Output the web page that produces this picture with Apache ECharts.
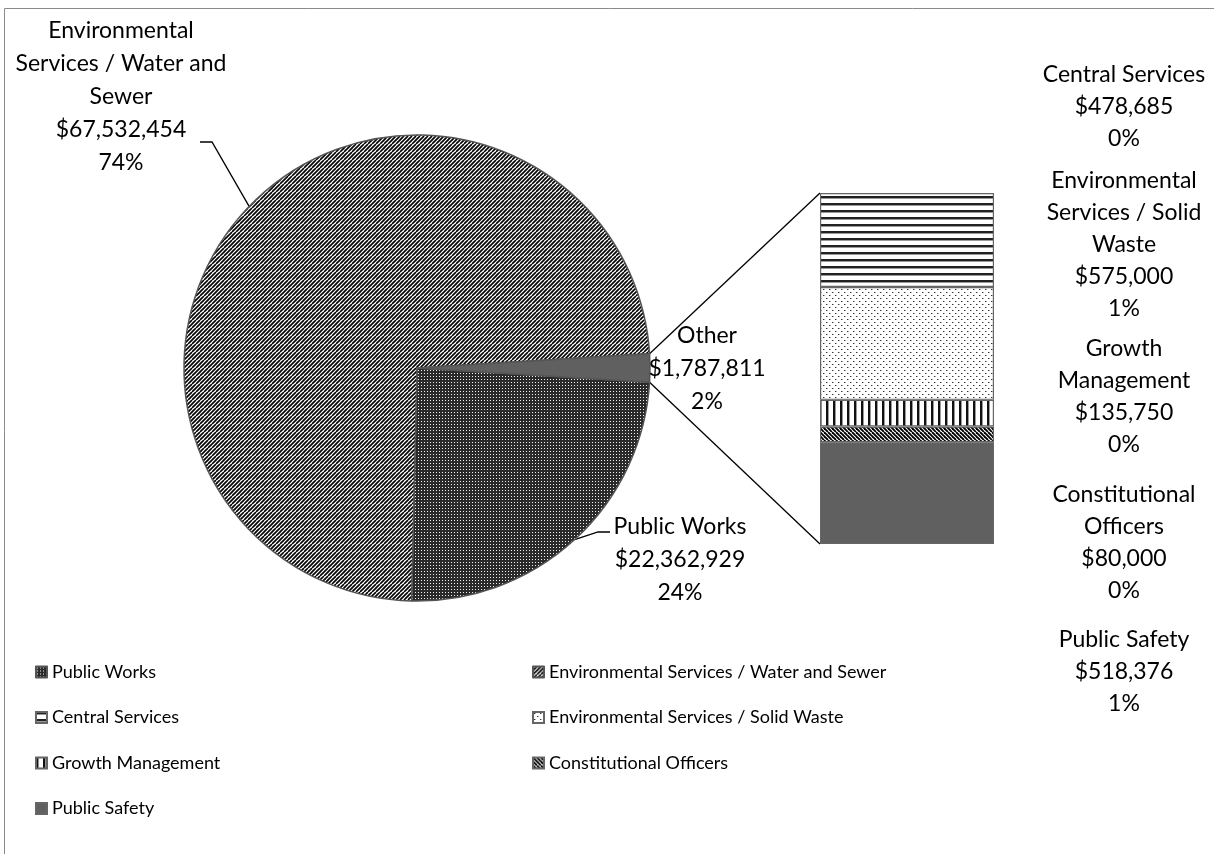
<!DOCTYPE html>
<html>
<head>
<meta charset="utf-8">
<script src="https://cdn.jsdelivr.net/npm/echarts@6/dist/echarts.min.js"></script>
<style>
html, body { margin: 0; padding: 0; background: #fff; }
#main { width: 1214px; height: 854px; }
</style>
</head>
<body>
<div id="main"></div>
<script>
// pie slices, "Other" is the sum of the bar below
var pieNames = ['Public Works', 'Environmental Services / Water and Sewer', 'Other'];
var pieValues = [22362929, 67532454, 1787811];
var piePct = ['24%', '74%', '2%'];
var pieLabelNames = ['Public Works', 'Environmental\nServices / Water and\nSewer', 'Other'];

// bar of "Other", bottom to top
var barNames = ['Public Safety', 'Constitutional Officers', 'Growth Management', 'Environmental Services / Solid Waste', 'Central Services'];
var barValues = [518376, 80000, 135750, 575000, 478685];
var barPct = ['1%', '0%', '0%', '1%', '0%'];
var barLabelNames = ['Public Safety', 'Constitutional\nOfficers', 'Growth\nManagement', 'Environmental\nServices / Solid\nWaste', 'Central Services'];

// legend columns
var legendLeft = ['Public Works', 'Central Services', 'Growth Management', 'Public Safety'];
var legendRight = ['Environmental Services / Water and Sewer', 'Environmental Services / Solid Waste', 'Constitutional Officers'];

var FONT = 'Lato';

// layout
var pieCenter = [417, 368];
var pieRadius = 233;
var barBox = { left: 820, top: 193, width: 174, height: 351 };
var pieLabelPos = [[680, 560], [121, 97], [707, 369]];
var pieLabelEnd = [[[598, 532], [610, 532]], [[212, 142], [200, 142]], null];
var barLabelX = 1124;
var barLabelY = [672, 543, 397, 245, 107];

function fmt(v) { return '$' + v.toLocaleString('en-US'); }

// hatch patterns
function tile(w, h, bg, draw) {
  var c = document.createElement('canvas');
  c.width = w; c.height = h;
  var ctx = c.getContext('2d');
  ctx.fillStyle = bg;
  ctx.fillRect(0, 0, w, h);
  draw(ctx, w, h);
  return { image: c, repeat: 'repeat' };
}
function diag(ctx, size, step, lw, color, up) {
  ctx.strokeStyle = color;
  ctx.lineWidth = lw;
  for (var x0 = -size; x0 <= size * 2; x0 += step) {
    ctx.beginPath();
    if (up) { ctx.moveTo(x0, size); ctx.lineTo(x0 + size, 0); }
    else { ctx.moveTo(x0, 0); ctx.lineTo(x0 + size, size); }
    ctx.stroke();
  }
}

var patWater = tile(8, 8, '#fff', function (ctx) { diag(ctx, 8, 4, 1.6, '#000', true); });
var patWorks = tile(3, 3, '#2a2a2a', function (ctx) { ctx.fillStyle = '#f2f2f2'; ctx.fillRect(1, 1, 1, 1); });
var patCentral = tile(4, 7, '#fff', function (ctx) {
  ctx.fillStyle = '#222'; ctx.fillRect(0, 0, 4, 2);
  ctx.fillStyle = '#999'; ctx.fillRect(0, 2, 4, 1);
});
var patSolid = tile(6, 6, '#fff', function (ctx) {
  ctx.fillStyle = '#333';
  ctx.fillRect(1, 1, 1, 1);
  ctx.fillRect(4, 4, 1, 1);
  ctx.fillStyle = '#aaa';
  ctx.fillRect(2, 1, 1, 1);
  ctx.fillRect(5, 4, 1, 1);
});
var patGrowth = tile(7, 4, '#fff', function (ctx) {
  ctx.fillStyle = '#111'; ctx.fillRect(0, 0, 2, 4);
  ctx.fillStyle = '#999'; ctx.fillRect(2, 0, 1, 4);
});
var patConst = tile(8, 8, '#fff', function (ctx) { diag(ctx, 8, 4, 1.9, '#000', false); });
var solidGray = '#606060';

var pieColors = [patWorks, patWater, solidGray];
var barColors = [solidGray, patConst, patGrowth, patSolid, patCentral];

// angles for the "Other" wedge, centred on 3 o'clock
var pieTotal = pieValues.reduce(function (a, b) { return a + b; }, 0);
var barTotal = barValues.reduce(function (a, b) { return a + b; }, 0);
var halfOther = pieValues[2] / pieTotal * Math.PI;
function edge(a) { return [pieCenter[0] + pieRadius * Math.cos(a), pieCenter[1] - pieRadius * Math.sin(a)]; }
var pTop = edge(halfOther), pBot = edge(-halfOther);

var series = [{
  type: 'pie',
  center: pieCenter,
  radius: pieRadius,
  startAngle: -halfOther * 180 / Math.PI,
  clockwise: true,
  avoidLabelOverlap: false,
  animation: false,
  data: pieNames.map(function (n, i) {
    return {
      name: n,
      value: pieValues[i],
      itemStyle: { color: pieColors[i] },
      labelLine: { show: i !== 2 }
    };
  }),
  itemStyle: { borderColor: '#555', borderWidth: 1.5 },
  label: {
    show: true,
    position: 'outside',
    fontFamily: FONT,
    fontSize: 23,
    lineHeight: 33,
    color: '#000',
    align: 'center',
    formatter: function (p) {
      return pieLabelNames[p.dataIndex] + '\n' + fmt(p.value) + '\n' + piePct[p.dataIndex];
    }
  },
  labelLine: { show: true, lineStyle: { color: '#000', width: 1.3 } },
  labelLayout: function (p) {
    var i = p.dataIndex;
    var out = { x: pieLabelPos[i][0], y: pieLabelPos[i][1], align: 'center', verticalAlign: 'middle' };
    if (pieLabelEnd[i] && p.labelLinePoints) {
      out.labelLinePoints = [p.labelLinePoints[0]].concat(pieLabelEnd[i]);
    }
    return out;
  }
}];

barNames.forEach(function (n, i) {
  series.push({
    name: n,
    type: 'bar',
    stack: 'other',
    barWidth: '100%',
    animation: false,
    data: [barValues[i]],
    itemStyle: { color: barColors[i], borderColor: '#666', borderWidth: 1.2 },
    label: {
      show: true,
      position: 'right',
      fontFamily: FONT,
      fontSize: 23,
      lineHeight: 32,
      color: '#000',
      align: 'center',
      formatter: function () {
        return barLabelNames[i] + '\n' + fmt(barValues[i]) + '\n' + barPct[i];
      }
    },
    labelLayout: { x: barLabelX, y: barLabelY[i], align: 'center', verticalAlign: 'middle' }
  });
});

var legendBase = {
  orient: 'vertical',
  top: 657,
  itemGap: 25.5,
  itemWidth: 11,
  itemHeight: 11,
  icon: 'rect',
  textStyle: { fontFamily: FONT, fontSize: 18, lineHeight: 20, color: '#000' }
};

var option = {
  backgroundColor: '#fff',
  animation: false,
  grid: { left: barBox.left, top: barBox.top, width: barBox.width, height: barBox.height, containLabel: false },
  xAxis: { type: 'category', data: ['Other'], show: false },
  yAxis: { type: 'value', min: 0, max: barTotal, show: false },
  legend: [
    Object.assign({}, legendBase, { left: 30, data: legendLeft }),
    Object.assign({}, legendBase, { left: 527, data: legendRight })
  ],
  graphic: [
    { type: 'rect', shape: { x: 4.5, y: 8.5, width: 1230, height: 870 }, style: { fill: 'none', stroke: '#8a8a8a', lineWidth: 1 }, silent: true, z: -1 },
    { type: 'line', shape: { x1: pTop[0], y1: pTop[1], x2: barBox.left, y2: barBox.top }, style: { stroke: '#000', lineWidth: 1.3 }, silent: true },
    { type: 'line', shape: { x1: pBot[0], y1: pBot[1], x2: barBox.left, y2: barBox.top + barBox.height }, style: { stroke: '#000', lineWidth: 1.3 }, silent: true }
  ],
  series: series
};

var chart = echarts.init(document.getElementById('main'));
chart.setOption(option);
</script>
</body>
</html>
